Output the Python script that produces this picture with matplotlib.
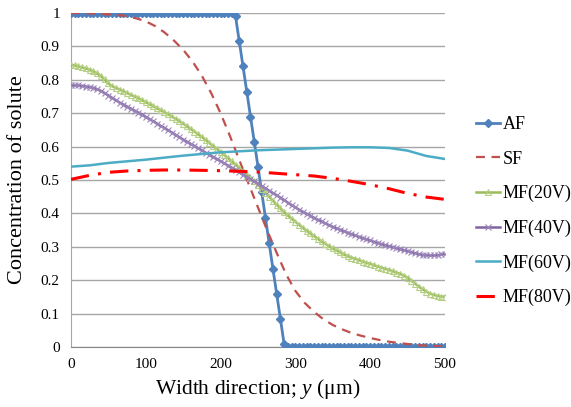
import numpy as np
import matplotlib
matplotlib.use('Agg')
import matplotlib.pyplot as plt

plt.rcParams['font.family'] = ['Liberation Serif', 'DejaVu Serif']
plt.rcParams['mathtext.fontset'] = 'custom'
plt.rcParams['mathtext.it'] = 'Liberation Serif:italic'
plt.rcParams['mathtext.rm'] = 'Liberation Serif'

# x positions (um)
x5 = np.arange(0, 501, 5)
x12 = np.arange(0, 501, 12.5)
x25 = np.arange(0, 501, 25)

af = [1.0] * 44 + [0.99, 0.915, 0.84, 0.765, 0.69, 0.615, 0.54, 0.463,
                   0.387, 0.31, 0.234, 0.159, 0.084, 0.008] + [0.0] * 43

sf = [1.0, 1.0, 0.999, 0.998, 0.996, 0.994, 0.99, 0.984, 0.975, 0.961,
      0.942, 0.918, 0.89, 0.855, 0.812, 0.76, 0.70, 0.632, 0.56, 0.488,
      0.418, 0.348, 0.282, 0.218, 0.168, 0.132, 0.105, 0.083, 0.066, 0.053,
      0.042, 0.034, 0.027, 0.021, 0.016, 0.012, 0.009, 0.006, 0.004, 0.003,
      0.002]

mf20 = [0.845, 0.843, 0.840, 0.837, 0.834, 0.830, 0.825, 0.819, 0.811, 0.801,
        0.789, 0.781, 0.776, 0.771, 0.766, 0.761, 0.755, 0.750, 0.745, 0.739,
        0.733, 0.727, 0.721, 0.715, 0.709, 0.703, 0.697, 0.690, 0.683, 0.676,
        0.669, 0.661, 0.653, 0.645, 0.637, 0.629, 0.620, 0.611, 0.602, 0.593,
        0.584, 0.575, 0.565, 0.556, 0.546, 0.536, 0.526, 0.516, 0.506, 0.496,
        0.486, 0.474, 0.462, 0.450, 0.438, 0.426, 0.415, 0.404, 0.394, 0.384,
        0.375, 0.366, 0.357, 0.348, 0.340, 0.332, 0.324, 0.316, 0.309, 0.302,
        0.295, 0.289, 0.283, 0.277, 0.272, 0.268, 0.264, 0.260, 0.256, 0.252,
        0.249, 0.245, 0.241, 0.238, 0.234, 0.231, 0.227, 0.223, 0.219, 0.214,
        0.207, 0.199, 0.190, 0.181, 0.173, 0.166, 0.160, 0.156, 0.153, 0.151,
        0.151]

mf40 = [0.784, 0.783, 0.783, 0.782, 0.780, 0.778, 0.776, 0.772, 0.767, 0.760,
        0.753, 0.746, 0.739, 0.732, 0.726, 0.720, 0.714, 0.708, 0.702, 0.696,
        0.689, 0.682, 0.676, 0.669, 0.662, 0.656, 0.649, 0.642, 0.635, 0.628,
        0.621, 0.615, 0.608, 0.602, 0.595, 0.589, 0.582, 0.576, 0.569, 0.563,
        0.556, 0.550, 0.543, 0.537, 0.530, 0.523, 0.516, 0.509, 0.502, 0.496,
        0.489, 0.482, 0.475, 0.468, 0.461, 0.454, 0.447, 0.440, 0.432, 0.425,
        0.418, 0.411, 0.405, 0.399, 0.393, 0.387, 0.381, 0.376, 0.370, 0.365,
        0.360, 0.355, 0.351, 0.347, 0.342, 0.338, 0.334, 0.330, 0.326, 0.322,
        0.319, 0.315, 0.312, 0.308, 0.305, 0.302, 0.299, 0.296, 0.293, 0.290,
        0.287, 0.284, 0.281, 0.278, 0.276, 0.275, 0.274, 0.274, 0.275, 0.277,
        0.279]

mf60 = [0.540, 0.544, 0.551, 0.556, 0.561, 0.567, 0.573, 0.578, 0.583, 0.586,
        0.589, 0.591, 0.593, 0.595, 0.597, 0.598, 0.598, 0.596, 0.588, 0.572,
        0.563]

mf80 = [0.502, 0.514, 0.523, 0.527, 0.529, 0.530, 0.530, 0.529, 0.528, 0.526,
        0.524, 0.520, 0.516, 0.512, 0.505, 0.496, 0.486, 0.474, 0.460, 0.449,
        0.442]

fig = plt.figure(figsize=(5.71, 4.07), dpi=100)
ax = fig.add_axes([0.1243, 0.1474, 0.655, 0.8206])

ax.plot(x5, af, color='#4F81BD', lw=2, marker='D', ms=4.2, label='AF', zorder=3)
ax.plot(x12, sf, color='#C0504D', lw=1.6, ls=(0, (4, 3)), label='SF', zorder=3)
ax.plot(x5, mf20, color='#9BBB59', lw=1.8, marker='^', ms=4.5, mfc='none',
        mec='#B5CF84', mew=0.8, label='MF(20V)', zorder=3)
ax.plot(x5, mf40, color='#8064A2', lw=1.8, marker='x', ms=4.5, mew=0.8,
        mec='#9C86BA', label='MF(40V)', zorder=3)
ax.plot(x25, mf60, color='#4BACC6', lw=1.8, label='MF(60V)', zorder=3)
ax.plot(x25, mf80, color='#FF0000', lw=2.2, ls=(0, (6, 3, 1, 3)),
        label='MF(80V)', zorder=3)

ax.set_xlim(0, 500)
ax.set_ylim(0, 1)
ax.set_xticks(np.arange(0, 501, 100))
ax.set_yticks(np.arange(0, 1.01, 0.1))
ax.set_yticklabels(['0', '0.1', '0.2', '0.3', '0.4', '0.5', '0.6', '0.7', '0.8', '0.9', '1'])
ax.tick_params(length=0, labelsize=11, pad=8)
ax.grid(axis='y', color='#A6A6A6', lw=1)
ax.set_axisbelow(True)
for s in ['top', 'right']:
    ax.spines[s].set_visible(False)
ax.spines['left'].set_color('#A6A6A6')
ax.spines['bottom'].set_color('#868686')

ax.set_xlabel('Width direction; $\\mathit{y}$ (\u03bcm)', fontsize=15.5, labelpad=4)
ax.set_ylabel('Concentration of solute', fontsize=16, labelpad=10)

ax.legend(loc='upper left', bbox_to_anchor=(0.833, 0.714), bbox_transform=fig.transFigure,
          frameon=False, fontsize=13, handlelength=1.35, handletextpad=0.15,
          labelspacing=0.96, borderpad=0, borderaxespad=0)

fig.savefig('out.png', dpi=100)
